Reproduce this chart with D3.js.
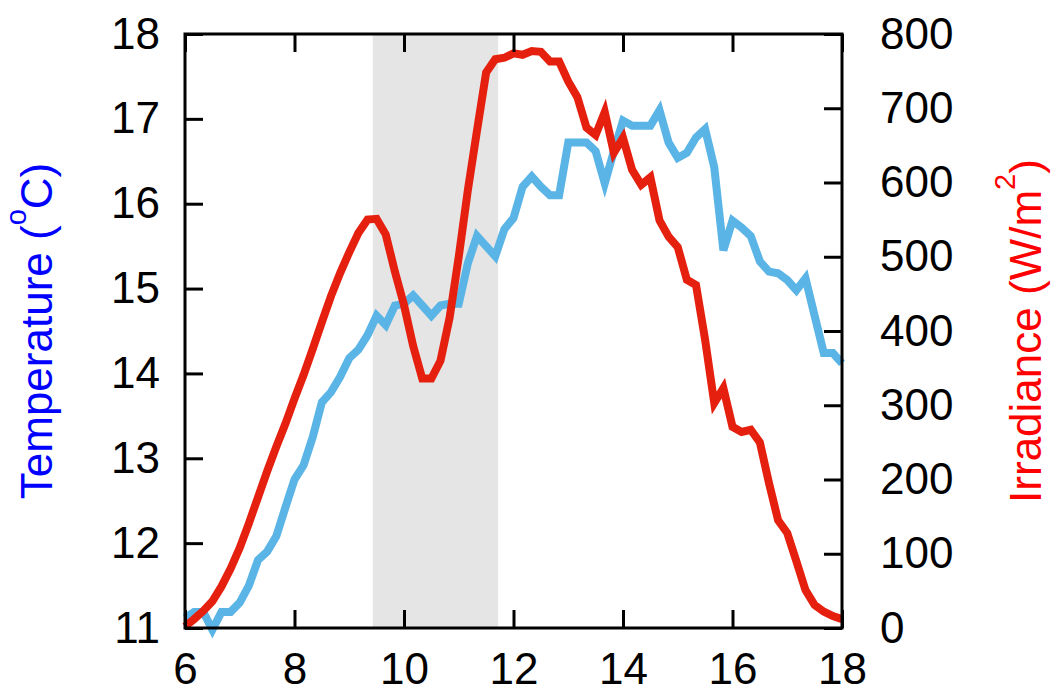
<!DOCTYPE html>
<html>
<head>
<meta charset="utf-8">
<script src="https://cdn.jsdelivr.net/npm/d3@7"></script>
<style>
  html, body { margin: 0; padding: 0; background: #fff; }
  svg { display: block; }
  text { font-family: "Liberation Sans", Arial, Helvetica, sans-serif; }
</style>
</head>
<body>
<svg id="chart" width="1053" height="692"></svg>
<script>
// Sampling times (10-minute readings), local clock time
const times = [
  "6:00","6:10","6:20","6:30","6:40","6:50",
  "7:00","7:10","7:20","7:30","7:40","7:50",
  "8:00","8:10","8:20","8:30","8:40","8:50",
  "9:00","9:10","9:20","9:30","9:40","9:50",
  "10:00","10:10","10:20","10:30","10:40","10:50",
  "11:00","11:10","11:20","11:30","11:40","11:50",
  "12:00","12:10","12:20","12:30","12:40","12:50",
  "13:00","13:10","13:20","13:30","13:40","13:50",
  "14:00","14:10","14:20","14:30","14:40","14:50",
  "15:00","15:10","15:20","15:30","15:40","15:50",
  "16:00","16:10","16:20","16:30","16:40","16:50",
  "17:00","17:10","17:20","17:30","17:40","17:50",
  "18:00"
];

// Air temperature, °C
const temperature = [
  11.12, 11.19, 11.19, 10.98, 11.19, 11.19,
  11.30, 11.50, 11.80, 11.90, 12.08, 12.42,
  12.75, 12.92, 13.25, 13.66, 13.78, 13.96,
  14.18, 14.28, 14.45, 14.68, 14.57, 14.80,
  14.82, 14.92, 14.80, 14.68, 14.80, 14.82,
  14.82, 15.30, 15.62, 15.50, 15.38, 15.70,
  15.83, 16.20, 16.32, 16.20, 16.10, 16.10,
  16.72, 16.72, 16.72, 16.62, 16.24, 16.62,
  16.98, 16.92, 16.92, 16.92, 17.10, 16.72,
  16.54, 16.60, 16.78, 16.88, 16.43, 15.45,
  15.80, 15.72, 15.62, 15.32, 15.20, 15.18,
  15.10, 14.98, 15.12, 14.68, 14.24, 14.24,
  14.12
];

// Solar irradiance, W/m²
const irradiance = [
  2, 12, 23, 36, 56, 80,
  108, 141, 176, 211, 244, 275,
  309, 341, 376, 412, 447, 478,
  506, 532, 550, 551, 530, 480,
  435, 380, 336, 336, 360, 418,
  500, 590, 670, 748, 766, 768,
  774, 772, 777, 776, 763, 763,
  736, 715, 674, 664, 695, 640,
  660, 617, 597, 607, 549, 527,
  513, 469, 462, 388, 303, 323,
  271, 264, 267, 250, 195, 145,
  128, 90, 51, 31, 22, 16,
  12
];

// Shaded interval (hours)
const shadeSpan = [9.43, 11.72];

// Axis ticks
const hourTicks = [6, 8, 10, 12, 14, 16, 18];
const tempTicks = [11, 12, 13, 14, 15, 16, 17, 18];
const irrTicks = [0, 100, 200, 300, 400, 500, 600, 700, 800];

const toHours = s => { const [h, m] = s.split(":").map(Number); return h + m / 60; };
const hours = times.map(toHours);

const plotLeft = 185, plotRight = 842, plotTop = 34, plotBottom = 628;
const fontSize = 44;

const svg = d3.select("#chart");

const x = d3.scaleLinear().domain([6, 18]).range([plotLeft, plotRight]);
const yT = d3.scaleLinear().domain([11, 18]).range([plotBottom, plotTop]);
const yI = d3.scaleLinear().domain([0, 800]).range([plotBottom, plotTop]);

// shaded band
svg.append("rect")
  .attr("x", x(shadeSpan[0]))
  .attr("y", plotTop)
  .attr("width", x(shadeSpan[1]) - x(shadeSpan[0]))
  .attr("height", plotBottom - plotTop)
  .attr("fill", "#e5e5e5");

// temperature line
const tempLine = d3.line()
  .x((d, i) => x(hours[i]))
  .y(d => yT(d));
svg.append("path")
  .datum(temperature)
  .attr("d", tempLine)
  .attr("fill", "none")
  .attr("stroke", "#5ab4e6")
  .attr("stroke-width", 8)
  .attr("stroke-linejoin", "miter");

// irradiance line
const irrLine = d3.line()
  .x((d, i) => x(hours[i]))
  .y(d => yI(d));
svg.append("path")
  .datum(irradiance)
  .attr("d", irrLine)
  .attr("fill", "none")
  .attr("stroke", "#e5200f")
  .attr("stroke-width", 8)
  .attr("stroke-linejoin", "miter");

// axes with inward ticks
function styleAxis(g) {
  g.select(".domain").remove();
  g.selectAll(".tick line").attr("stroke", "#000").attr("stroke-width", 3);
  g.selectAll(".tick text")
    .attr("fill", "#000")
    .style("font-size", fontSize + "px")
    .style("font-family", '"Liberation Sans", Arial, Helvetica, sans-serif');
}

const intFmt = d3.format("d");

svg.append("g")
  .attr("transform", `translate(0,${plotBottom})`)
  .call(d3.axisBottom(x).tickValues(hourTicks).tickFormat(intFmt)
    .tickSizeInner(-18).tickSizeOuter(0).tickPadding(25))
  .call(styleAxis);

svg.append("g")
  .attr("transform", `translate(0,${plotTop})`)
  .call(d3.axisTop(x).tickValues(hourTicks).tickSizeInner(-18).tickSizeOuter(0).tickFormat(""))
  .call(styleAxis);

svg.append("g")
  .attr("transform", `translate(${plotLeft},0)`)
  .call(d3.axisLeft(yT).tickValues(tempTicks).tickFormat(intFmt)
    .tickSizeInner(-18).tickSizeOuter(0).tickPadding(25))
  .call(styleAxis);

svg.append("g")
  .attr("transform", `translate(${plotRight},0)`)
  .call(d3.axisRight(yI).tickValues(irrTicks).tickFormat(intFmt)
    .tickSizeInner(-18).tickSizeOuter(0).tickPadding(38))
  .call(styleAxis);

// frame
svg.append("rect")
  .attr("x", plotLeft).attr("y", plotTop)
  .attr("width", plotRight - plotLeft).attr("height", plotBottom - plotTop)
  .attr("fill", "none")
  .attr("stroke", "#000")
  .attr("stroke-width", 3);

// axis titles
const midY = (plotTop + plotBottom) / 2;

const tTitle = svg.append("text")
  .attr("transform", `translate(52,${midY}) rotate(-90)`)
  .attr("text-anchor", "middle")
  .attr("fill", "#0000ff")
  .style("font-size", fontSize + "px");
tTitle.append("tspan").text("Temperature (");
tTitle.append("tspan").attr("dy", -26).style("font-size", "29px").text("o");
tTitle.append("tspan").attr("dy", 26).text("C)");

const iTitle = svg.append("text")
  .attr("transform", `translate(1041,${midY}) rotate(-90)`)
  .attr("text-anchor", "middle")
  .attr("fill", "#ff0000")
  .style("font-size", fontSize + "px");
iTitle.append("tspan").text("Irradiance (W/m");
iTitle.append("tspan").attr("dy", -26).style("font-size", "29px").text("2");
iTitle.append("tspan").attr("dy", 26).text(")");
</script>
</body>
</html>
